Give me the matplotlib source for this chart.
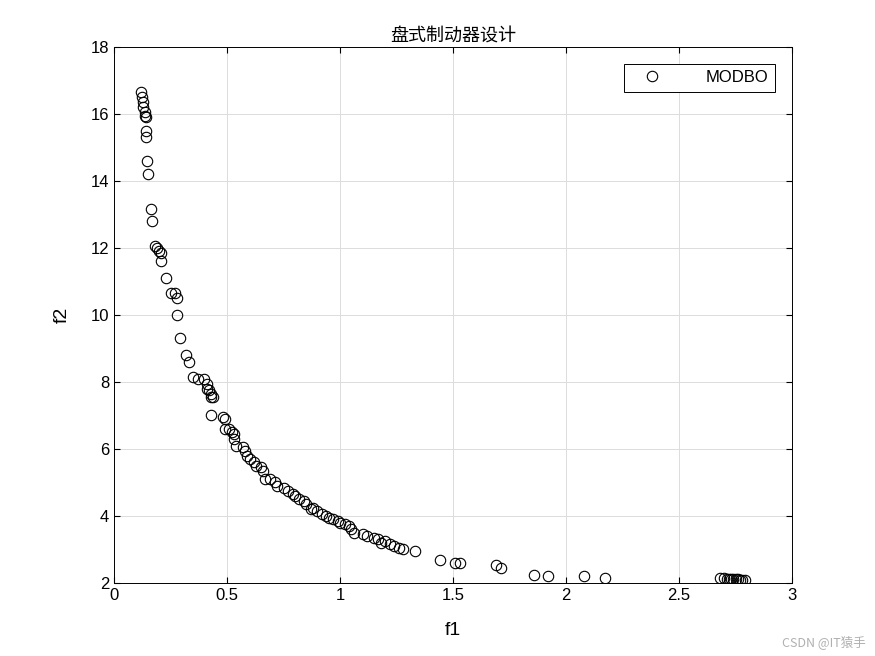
import matplotlib
matplotlib.use("Agg")
import matplotlib.pyplot as plt

plt.rcParams['font.family'] = ['Liberation Sans', 'Noto Sans CJK SC', 'DejaVu Sans']

f1 = [0.12,0.125,0.13,0.13,0.135,0.135,0.14,0.14,0.14,0.145,0.15,0.165,0.17,0.18,0.19,0.2,0.21,0.21,0.23,0.25,0.27,0.28,0.28,0.29,0.32,0.33,0.35,0.37,0.4,0.41,0.41,0.42,0.43,0.43,0.44,0.43,0.48,0.49,0.49,0.51,0.52,0.53,0.53,0.54,0.57,0.58,0.59,0.6,0.62,0.63,0.65,0.66,0.67,0.69,0.71,0.72,0.75,0.77,0.79,0.8,0.82,0.84,0.85,0.87,0.88,0.9,0.92,0.94,0.95,0.97,0.99,1.0,1.02,1.04,1.05,1.06,1.1,1.12,1.15,1.17,1.18,1.2,1.22,1.24,1.26,1.28,1.33,1.44,1.51,1.53,1.69,1.71,1.86,1.92,2.08,2.17,
      2.68,2.70,2.71,2.72,2.73,2.74,2.75,2.76,2.77,2.78,2.79]
f2 = [16.65,16.5,16.35,16.2,16.05,15.95,15.9,15.5,15.3,14.6,14.2,13.15,12.8,12.05,12.0,11.9,11.85,11.6,11.1,10.65,10.65,10.5,10.0,9.3,8.8,8.6,8.15,8.1,8.1,7.95,7.8,7.75,7.65,7.55,7.55,7.0,6.95,6.9,6.6,6.6,6.5,6.45,6.3,6.1,6.05,5.95,5.8,5.7,5.6,5.5,5.45,5.35,5.1,5.1,5.0,4.9,4.85,4.75,4.65,4.6,4.5,4.45,4.35,4.2,4.25,4.15,4.05,4.0,3.95,3.9,3.85,3.8,3.75,3.7,3.6,3.5,3.45,3.4,3.35,3.3,3.2,3.25,3.15,3.1,3.05,3.0,2.95,2.7,2.6,2.6,2.55,2.45,2.25,2.2,2.2,2.15,
      2.15,2.14,2.13,2.13,2.12,2.12,2.11,2.11,2.1,2.1,2.09]

fig = plt.figure(figsize=(8.75, 6.56), dpi=100)
ax = fig.add_axes([0.1303, 0.1113, 0.775, 0.8171])
ax.plot(f1, f2, 'o', mfc='none', mec='black', ms=7.5, mew=0.8, linestyle='none', label='MODBO')
ax.set_xlim(0, 3)
ax.set_ylim(2, 18)
ax.set_xticks([0, 0.5, 1, 1.5, 2, 2.5, 3])
ax.set_xticklabels(['0', '0.5', '1', '1.5', '2', '2.5', '3'])
ax.set_yticks(range(2, 19, 2))
ax.grid(True, color='#dcdcdc', linewidth=0.7)
ax.tick_params(direction='in', labelsize=12, top=True, right=True, length=4)
for s in ax.spines.values():
    s.set_linewidth(0.7)
ax.set_xlabel('f1', fontsize=14, labelpad=14)
ax.set_ylabel('f2', fontsize=14, labelpad=14)
ax.set_title('盘式制动器设计', fontsize=13, pad=4, family=['Noto Sans CJK SC', 'DejaVu Sans'])
leg = ax.legend(loc='upper right', fontsize=12, fancybox=False, framealpha=1,
                edgecolor='black', borderaxespad=1.0, handletextpad=2.0, handlelength=2.5)
leg.get_frame().set_linewidth(0.7)
fig.text(0.99, 0.01, 'CSDN @IT猿手', ha='right', va='bottom', fontsize=9, color='#b0b0b0',
         family=['Noto Sans CJK SC', 'DejaVu Sans'])
fig.savefig('out.png', dpi=100)
